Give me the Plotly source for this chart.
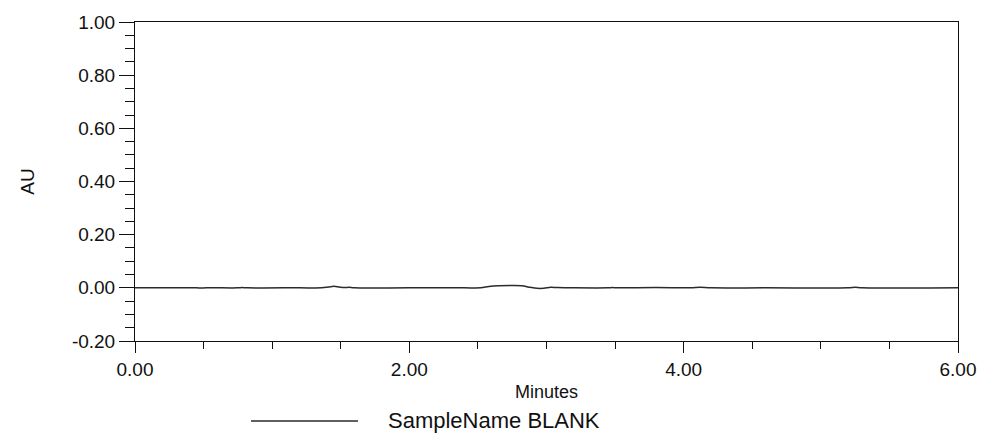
import plotly.graph_objects as go

# Chromatogram (blank injection)
minutes = [0.00, 0.30, 0.45, 0.48, 0.52, 0.75, 0.78, 0.82, 1.20, 1.36, 1.41, 1.45,
           1.49, 1.53, 1.56, 1.60, 2.00, 2.40, 2.52, 2.58, 2.65, 2.75, 2.82, 2.88,
           2.93, 2.98, 3.03, 3.08, 3.20, 3.45, 3.48, 3.52, 3.80, 4.05, 4.12, 4.20,
           4.60, 5.20, 5.25, 5.30, 6.00]
au = [0.000, 0.000, 0.000, -0.001, 0.000, 0.000, 0.001, 0.000, 0.000, 0.000, 0.003, 0.006,
      0.003, 0.001, 0.002, 0.000, 0.000, 0.000, 0.000, 0.005, 0.008, 0.009, 0.008, 0.002,
      -0.002, -0.002, 0.002, 0.001, 0.000, 0.000, 0.001, 0.000, 0.001, 0.000, 0.002, 0.000,
      0.000, 0.000, 0.002, 0.000, 0.000]

x_ticks = [0, 2, 4, 6]
x_tick_labels = ["0.00", "2.00", "4.00", "6.00"]
y_ticks = [-0.2, 0.0, 0.2, 0.4, 0.6, 0.8, 1.0]
y_tick_labels = ["-0.20", "0.00", "0.20", "0.40", "0.60", "0.80", "1.00"]
series_name = "SampleName BLANK"

FONT = "Liberation Sans, Arial, sans-serif"
INK = "#111111"

fig = go.Figure()
fig.add_trace(go.Scatter(
    x=minutes, y=au, mode="lines", name=series_name,
    line=dict(color="#2b2b2b", width=1.5, shape="spline"),
    showlegend=False,
))

fig.update_layout(
    width=988, height=435,
    margin=dict(l=135, r=30, t=18, b=94),
    paper_bgcolor="white", plot_bgcolor="white",
    font=dict(family=FONT, size=19, color=INK),
    xaxis=dict(
        range=[0, 6], tickvals=x_ticks, ticktext=x_tick_labels,
        showgrid=False, zeroline=False,
        showline=True, linecolor=INK, linewidth=1, mirror=True,
        ticks="outside", ticklen=11, tickcolor=INK,
        minor=dict(dtick=0.5, ticks="outside", ticklen=7, tickcolor=INK, showgrid=False),
        title=dict(text="Minutes", standoff=6, font=dict(size=18)),
    ),
    yaxis=dict(
        range=[-0.2, 1.0], tickvals=y_ticks, ticktext=y_tick_labels,
        showgrid=False, zeroline=False,
        showline=True, linecolor=INK, linewidth=1, mirror=True,
        ticks="outside", ticklen=15, tickcolor=INK,
        minor=dict(dtick=0.05, ticks="outside", ticklen=9, tickcolor=INK, showgrid=False),
        title=dict(text="AU", standoff=32, font=dict(size=19)),
    ),
)

# Legend drawn as a sample line plus label below the axis title
leg_y = -(422 - 341) / 323
fig.add_shape(type="line", xref="paper", yref="paper",
              x0=(251 - 135) / 823, x1=(358 - 135) / 823,
              y0=leg_y, y1=leg_y,
              line=dict(color="#2b2b2b", width=1.5))
fig.add_annotation(text=series_name, xref="paper", yref="paper",
                   x=(386 - 135) / 823, y=leg_y,
                   xanchor="left", yanchor="middle", showarrow=False,
                   font=dict(family=FONT, size=22, color=INK))

fig.write_html("out.html", config={"displayModeBar": False},
               post_script="document.body.style.margin='0';")
